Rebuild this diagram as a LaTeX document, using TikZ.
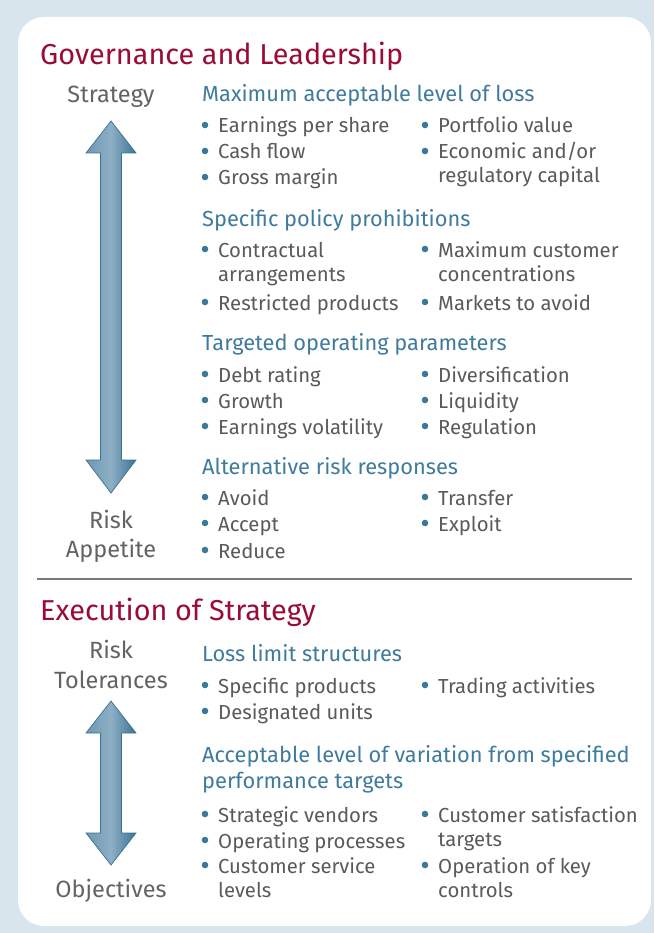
\documentclass[tikz,border=0pt]{standalone}
\usepackage{fontspec}
\setmainfont{Fira Sans}
\definecolor{bgblue}{HTML}{D9E5EC}
\definecolor{titlered}{HTML}{9A0B35}
\definecolor{headblue}{HTML}{3F7B9C}
\definecolor{bodygray}{HTML}{5A5A5A}
\definecolor{sidegray}{HTML}{636363}
\definecolor{bulc}{HTML}{3D7898}
\definecolor{arrL}{HTML}{6F98B3}
\definecolor{arrM}{HTML}{8EAFC5}
\definecolor{arrR}{HTML}{3A7394}
\definecolor{arrEdge}{HTML}{3A7191}
\definecolor{rulegray}{HTML}{7A7A7A}
\newcommand\bul[1]{\fill[bulc] ([xshift=-13pt,yshift=8pt]#1.base west) circle (3.3pt);}
\begin{document}
\begin{tikzpicture}[x=1pt,y=-1pt,
  titletext/.style={anchor=base west, inner sep=0pt, text=titlered, font=\fontsize{28.8}{32}\selectfont},
  headtext/.style={anchor=base west, inner sep=0pt, text=headblue, font=\fontsize{21.8}{24}\selectfont},
  itemtext/.style={anchor=base west, inner sep=0pt, text=bodygray, font=\fontsize{20.3}{22}\selectfont},
  sidetext/.style={anchor=base, inner sep=0pt, text=sidegray, font=\fontsize{23.5}{26}\selectfont},
  arrowbody/.style={left color=arrL, right color=arrR, middle color=arrM, draw=arrEdge, line width=0.7pt, line join=miter}]
\useasboundingbox (0,0) rectangle (654,933);
\fill[bgblue] (0,0) rectangle (654,933);
\fill[white, rounded corners=26pt] (18,17) rectangle (651,926);

% ---------- Governance and Leadership ----------
\node[titletext] (t1) at (40,65) {Governance and Leadership};
\node[sidetext] (s1) at (111,103) {Strategy};
\node[sidetext] (s2) at (111,528) {Risk};
\node[sidetext] (s3) at (111,557) {Appetite};
\shade[arrowbody] (111,121) -- (136,153) -- (121.5,153) -- (121.5,460) -- (136,460) -- (111,493)
  -- (86,460) -- (100.5,460) -- (100.5,153) -- (86,153) -- cycle;

\node[headtext] (h1) at (202,102) {Maximum acceptable level of loss};
\node[itemtext] (a1) at (218,133) {Earnings per share}; \bul{a1}
\node[itemtext] (a2) at (218,159) {Cash flow}; \bul{a2}
\node[itemtext] (a3) at (218,185) {Gross margin}; \bul{a3}
\node[itemtext] (b1) at (438,133) {Portfolio value}; \bul{b1}
\node[itemtext] (b2) at (438,159) {Economic and/or}; \bul{b2}
\node[itemtext] (b2x) at (438,183) {regulatory capital};

\node[headtext] (h2) at (202,226) {Specific policy prohibitions};
\node[itemtext] (c1) at (218,257) {Contractual}; \bul{c1}
\node[itemtext] (c1x) at (218,281) {arrangements};
\node[itemtext] (c2) at (218,310) {Restricted products}; \bul{c2}
\node[itemtext] (d1) at (438,257) {Maximum customer}; \bul{d1}
\node[itemtext] (d1x) at (438,281) {concentrations};
\node[itemtext] (d2) at (438,310) {Markets to avoid}; \bul{d2}

\node[headtext] (h3) at (202,350) {Targeted operating parameters};
\node[itemtext] (e1) at (218,382) {Debt rating}; \bul{e1}
\node[itemtext] (e2) at (218,408) {Growth}; \bul{e2}
\node[itemtext] (e3) at (218,434) {Earnings volatility}; \bul{e3}
\node[itemtext] (f1) at (438,382) {Diversification}; \bul{f1}
\node[itemtext] (f2) at (438,408) {Liquidity}; \bul{f2}
\node[itemtext] (f3) at (438,434) {Regulation}; \bul{f3}

\node[headtext] (h4) at (202,474) {Alternative risk responses};
\node[itemtext] (g1) at (218,505) {Avoid}; \bul{g1}
\node[itemtext] (g2) at (218,531) {Accept}; \bul{g2}
\node[itemtext] (g3) at (218,558) {Reduce}; \bul{g3}
\node[itemtext] (k1) at (438,505) {Transfer}; \bul{k1}
\node[itemtext] (k2) at (438,531) {Exploit}; \bul{k2}

% ---------- separator ----------
\coordinate (sepL) at (37,579);
\coordinate (sepR) at (632,579);
\draw[rulegray, line width=1.2pt] (sepL) -- (sepR);

% ---------- Execution of Strategy ----------
\node[titletext] (t2) at (40,620) {Execution of Strategy};
\node[sidetext] (s4) at (111,658) {Risk};
\node[sidetext] (s5) at (111,688) {Tolerances};
\node[sidetext] (s6) at (111,897) {Objectives};
\shade[arrowbody] (111,701) -- (136,733) -- (121.5,733) -- (121.5,833) -- (136,833) -- (111,865)
  -- (86,833) -- (100.5,833) -- (100.5,733) -- (86,733) -- cycle;

\node[headtext] (h5) at (202,661) {Loss limit structures};
\node[itemtext] (m1) at (218,693) {Specific products}; \bul{m1}
\node[itemtext] (m2) at (218,719) {Designated units}; \bul{m2}
\node[itemtext] (n1) at (438,693) {Trading activities}; \bul{n1}

\node[headtext] (h6) at (202,762) {Acceptable level of variation from specified};
\node[headtext] (h6x) at (202,788) {performance targets};
\node[itemtext] (p1) at (218,822) {Strategic vendors}; \bul{p1}
\node[itemtext] (p2) at (218,848) {Operating processes}; \bul{p2}
\node[itemtext] (p3) at (218,873) {Customer service}; \bul{p3}
\node[itemtext] (p3x) at (218,897) {levels};
\node[itemtext] (q1) at (438,822) {Customer satisfaction}; \bul{q1}
\node[itemtext] (q1x) at (438,846) {targets};
\node[itemtext] (q2) at (438,873) {Operation of key}; \bul{q2}
\node[itemtext] (q2x) at (438,897) {controls};
\end{tikzpicture}
\end{document}
